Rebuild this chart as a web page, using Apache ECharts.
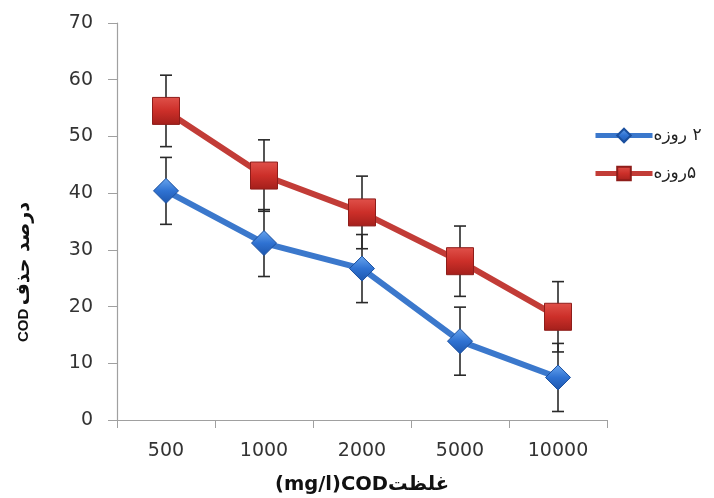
<!DOCTYPE html>
<html><head><meta charset="utf-8">
<script src="https://cdn.jsdelivr.net/npm/echarts@6/dist/echarts.min.js"></script>
<style>html,body{margin:0;padding:0;background:#fff}#c{width:714px;height:498px}</style>
</head><body><div id="c"></div>
<script>
var categories = ['500', '1000', '2000', '5000', '10000'];
var day2 = [40.4, 31.2, 26.7, 13.9, 7.5];
var day2Err = [5.9, 5.9, 6.0, 6.0, 6.0];
var day5 = [54.5, 43.1, 36.6, 28.0, 18.2];
var day5Err = [6.3, 6.3, 6.4, 6.2, 6.2];
var seriesNames = ['\u202B۲ روزه\u202C', '\u202B۵روزه\u202C'];
var yTicks = {min: 0, max: 70, interval: 10};
var xTitle = '(mg/l)CODغلظت';
var yTitleLatin = 'COD';
var yTitleFa = 'درصد حذف';

function errData(vals, errs) {
  return vals.map(function (v, i) { return [i, v - errs[i], v + errs[i]]; });
}
function errRender(params, api) {
  var x = api.value(0);
  var lo = api.coord([x, api.value(1)]);
  var hi = api.coord([x, api.value(2)]);
  var w = 6;
  var st = {stroke: '#2a2a2a', lineWidth: 1.6};
  return {type: 'group', children: [
    {type: 'line', shape: {x1: hi[0], y1: hi[1], x2: lo[0], y2: lo[1]}, style: st},
    {type: 'line', shape: {x1: hi[0] - w, y1: hi[1], x2: hi[0] + w, y2: hi[1]}, style: st},
    {type: 'line', shape: {x1: lo[0] - w, y1: lo[1], x2: lo[0] + w, y2: lo[1]}, style: st}
  ]};
}

var chart = echarts.init(document.getElementById('c'));
var blue = '#3b78cc', red = '#c23c37';
var blueFill = new echarts.graphic.LinearGradient(0, 0, 0, 1, [
  {offset: 0, color: '#6aa6ee'}, {offset: 0.5, color: '#2f72d2'}, {offset: 1, color: '#1d56ad'}]);
var redFill = new echarts.graphic.LinearGradient(0, 0, 0, 1, [
  {offset: 0, color: '#e0514a'}, {offset: 0.5, color: '#cc2f29'}, {offset: 1, color: '#a31f1b'}]);
chart.setOption({
  animation: false,
  grid: {left: 117, right: 107, top: 23, bottom: 78, outerBoundsMode: 'none', containLabel: false},
  legend: {
    orient: 'vertical', left: 588, top: 122, itemWidth: 57, itemHeight: 17, itemGap: 21,
    data: seriesNames,
    lineStyle: {width: 5},
    textStyle: {fontSize: 17, color: '#222', fontFamily: 'DejaVu Sans', padding: [0, 0, 0, -4]}
  },
  graphic: [{
    type: 'text', x: 24, y: 272, rotation: Math.PI / 2,
    style: {
      text: '{a|' + yTitleLatin + '} {b|' + yTitleFa + '}',
      align: 'center', verticalAlign: 'middle',
      rich: {
        a: {fontSize: 15, fontWeight: 'bold', fontFamily: 'Liberation Sans', fill: '#111'},
        b: {fontSize: 19, fontWeight: 'bold', fontFamily: 'DejaVu Sans', fill: '#111'}
      }
    }
  }],
  xAxis: {
    type: 'category', data: categories, boundaryGap: true,
    axisLine: {lineStyle: {color: '#a0a0a0', width: 1.2}},
    axisTick: {show: true, length: 8, lineStyle: {color: '#a0a0a0'}},
    axisLabel: {fontSize: 19, color: '#333', margin: 22, fontFamily: 'DejaVu Sans'},
    name: xTitle, nameLocation: 'middle', nameGap: 55,
    nameTextStyle: {fontSize: 19.5, fontWeight: 'bold', color: '#111', fontFamily: 'DejaVu Sans'}
  },
  yAxis: {
    type: 'value', min: yTicks.min, max: yTicks.max, interval: yTicks.interval,
    splitLine: {show: false},
    axisLine: {show: true, lineStyle: {color: '#a0a0a0', width: 1.2}},
    axisTick: {show: true, length: 9, lineStyle: {color: '#a0a0a0'}},
    axisLabel: {fontSize: 19, color: '#333', margin: 24, fontFamily: 'DejaVu Sans'}
  },
  series: [
    {type: 'custom', renderItem: errRender, data: errData(day2, day2Err), z: 1, silent: true},
    {type: 'custom', renderItem: errRender, data: errData(day5, day5Err), z: 1, silent: true},
    {name: seriesNames[0], type: 'line', data: day2, z: 3,
     symbol: 'diamond', symbolSize: [25, 25],
     lineStyle: {color: blue, width: 6},
     itemStyle: {color: blueFill, borderColor: '#1a4f9e', borderWidth: 1}},
    {name: seriesNames[1], type: 'line', data: day5, z: 3,
     symbol: 'rect', symbolSize: 27,
     lineStyle: {color: red, width: 6},
     itemStyle: {color: redFill, borderColor: '#8e1d1a', borderWidth: 1}}
  ]
});
</script></body></html>
